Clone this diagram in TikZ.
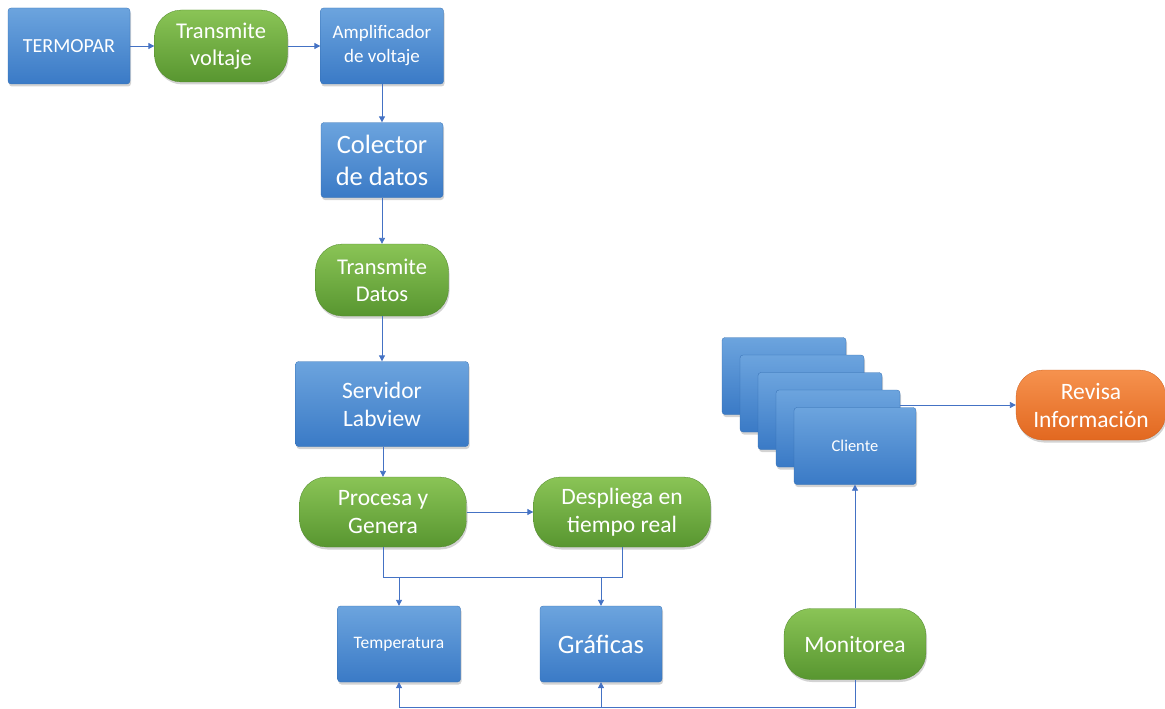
\documentclass[tikz,border=0pt]{standalone}
\usepackage{fontspec}
\setmainfont{Carlito}
\usetikzlibrary{arrows.meta,shadows}
\definecolor{lineblue}{RGB}{68,114,196}
\definecolor{bluetop}{RGB}{108,164,222}
\definecolor{bluebot}{RGB}{58,122,198}
\definecolor{greentop}{RGB}{138,196,86}
\definecolor{greenbot}{RGB}{88,150,48}
\definecolor{orangetop}{RGB}{246,146,78}
\definecolor{orangebot}{RGB}{226,104,32}
\tikzset{
  base/.style={text=white, align=center, inner sep=2pt,
    drop shadow={shadow xshift=1pt, shadow yshift=-2.5pt, opacity=0.35}},
  bluebox/.style={base, rounded corners=3pt, top color=bluetop, bottom color=bluebot,
    draw=bluebot!90!black, line width=0.3pt},
  greenpill/.style={base, rounded corners=27pt, top color=greentop, bottom color=greenbot,
    draw=greenbot!90!black, line width=0.3pt},
  orangepill/.style={base, rounded corners=27pt, top color=orangetop, bottom color=orangebot,
    draw=orangebot!90!black, line width=0.3pt},
  conn/.style={draw=lineblue, line width=0.8pt},
  arr/.style={conn, -{Triangle[width=6pt,length=6pt]}},
  fs/.style 2 args={font=\fontsize{#1}{#2}\selectfont}
}
\begin{document}
\begin{tikzpicture}[x=1pt,y=-1pt]
\useasboundingbox (0,0) rectangle (1165,709);

% top row
\node[bluebox, minimum width=122pt, minimum height=76pt, fs={20}{24}] (termopar) at (69,46) {TERMOPAR};
\node[greenpill, minimum width=133pt, minimum height=72pt, fs={22.5}{27}] (tvolt) at (221,46) {Transmite\\voltaje};
\node[bluebox, minimum width=123pt, minimum height=76pt, fs={19}{24}] (ampli) at (382,46) {Amplificador\\de voltaje};

% central column
\node[bluebox, minimum width=122pt, minimum height=75pt, fs={26.5}{32}] (colector) at (382,160) {Colector\\de datos};
\node[greenpill, minimum width=133pt, minimum height=72pt, fs={22.5}{27}] (tdatos) at (382,280) {Transmite\\Datos};
\node[bluebox, minimum width=173pt, minimum height=85pt, fs={23.5}{28}] (servidor) at (382,404) {Servidor\\Labview};
\node[greenpill, minimum width=167pt, minimum height=70pt, fs={23.5}{28}] (procesa) at (383,512) {Procesa y\\Genera};
\node[greenpill, minimum width=177pt, minimum height=70pt, fs={23.5}{28}] (despliega) at (622,512) {Despliega en\\tiempo real};

% outputs
\node[bluebox, minimum width=123pt, minimum height=76pt, fs={17.5}{21}] (temperatura) at (399,644) {Temperatura};
\node[bluebox, minimum width=122pt, minimum height=76pt, fs={26.5}{32}] (graficas) at (601,644) {Gráficas};
\node[greenpill, minimum width=142pt, minimum height=71pt, fs={23.5}{28}] (monitorea) at (855,644) {Monitorea};

% stacked clients
\node[bluebox, minimum width=124pt, minimum height=77pt] (client1) at (784,376) {};
\node[bluebox, minimum width=124pt, minimum height=77pt] (client2) at (802,393.5) {};
\node[bluebox, minimum width=124pt, minimum height=77pt] (client3) at (820,411) {};
\node[bluebox, minimum width=124pt, minimum height=77pt] (client4) at (838,428.5) {};
\node[bluebox, minimum width=122pt, minimum height=77pt, fs={16.5}{20}] (cliente) at (855,446) {Cliente};

\node[orangepill, minimum width=150pt, minimum height=70pt, fs={23.5}{28}] (revisa) at (1091,405) {Revisa\\Información};

% connectors
\draw[arr] (termopar) -- (tvolt);
\draw[arr] (tvolt) -- (ampli);
\draw[arr] (ampli) -- (colector);
\draw[arr] (colector) -- (tdatos);
\draw[arr] (tdatos) -- (servidor);
\draw[arr] (servidor.south -| procesa.north) -- (procesa.north);
\draw[arr] (procesa) -- (despliega);

\coordinate (busT) at (0,577);
\draw[conn] (procesa.south) -- (procesa.south |- busT) -- (despliega.south |- busT) -- (despliega.south);
\draw[arr] (temperatura.north |- busT) -- (temperatura.north);
\draw[arr] (graficas.north |- busT) -- (graficas.north);

\coordinate (busB) at (0,707.5);
\draw[conn] (monitorea.south) -- (monitorea.south |- busB) -- (temperatura.south |- busB);
\draw[arr] (temperatura.south |- busB) -- (temperatura.south);
\draw[arr] (graficas.south |- busB) -- (graficas.south);

\draw[arr] (monitorea.north) -- (cliente.south);
\draw[arr] (client4.east |- revisa.west) -- (revisa.west);
\end{tikzpicture}
\end{document}
